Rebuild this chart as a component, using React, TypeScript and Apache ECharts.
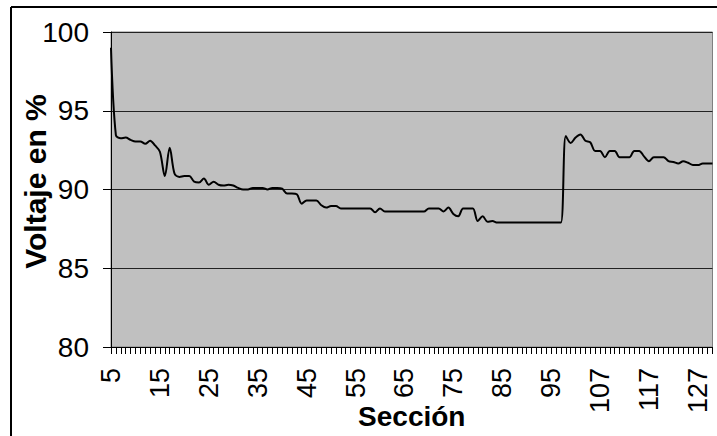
import React, { useEffect, useRef } from 'react';
import * as echarts from 'echarts';

const sections: number[] = [
  5, 6, 7, 8, 9, 10, 11, 12, 13, 14,
  15, 16, 17, 18, 19, 20, 21, 22, 23, 24,
  25, 26, 27, 28, 29, 30, 31, 32, 33, 34,
  35, 36, 37, 38, 39, 40, 41, 42, 43, 44,
  45, 46, 47, 48, 49, 50, 51, 52, 53, 54,
  55, 56, 57, 58, 59, 60, 61, 62, 63, 64,
  65, 66, 67, 68, 69, 70, 71, 72, 73, 74,
  75, 76, 77, 78, 79, 80, 81, 82, 83, 84,
  85, 86, 87, 88, 89, 90, 91, 92, 93, 94,
  95, 96, 97, 98, 100, 101, 102, 104, 105, 106,
  107, 108, 109, 110, 111, 112, 113, 114, 115, 116,
  117, 118, 119, 120, 121, 122, 123, 124, 125, 126,
  127, 128, 129, 130,
];

const voltage: number[] = [
  99.0, 93.45, 93.25, 93.3, 93.15, 93.05, 93.05, 92.9, 93.1, 92.8,
  92.4, 90.85, 92.65, 91.0, 90.8, 90.85, 90.85, 90.5, 90.45, 90.7,
  90.3, 90.5, 90.3, 90.25, 90.3, 90.25, 90.1, 90.0, 90.0, 90.1,
  90.1, 90.1, 90.0, 90.1, 90.1, 90.05, 89.75, 89.75, 89.7, 89.1,
  89.3, 89.3, 89.3, 89.0, 88.85, 88.95, 88.95, 88.8, 88.8, 88.8,
  88.8, 88.8, 88.8, 88.8, 88.55, 88.8, 88.6, 88.6, 88.6, 88.6,
  88.6, 88.6, 88.6, 88.6, 88.6, 88.8, 88.8, 88.8, 88.6, 88.85,
  88.45, 88.3, 88.8, 88.8, 88.8, 88.0, 88.3, 87.95, 88.0, 87.9,
  87.9, 87.9, 87.9, 87.9, 87.9, 87.9, 87.9, 87.9, 87.9, 87.9,
  87.9, 87.9, 87.9, 93.4, 92.95, 93.3, 93.5, 93.1, 93.0, 92.45,
  92.45, 92.05, 92.45, 92.45, 92.05, 92.05, 92.05, 92.45, 92.45, 92.1,
  91.8, 92.05, 92.05, 92.05, 91.8, 91.75, 91.65, 91.8, 91.7, 91.55,
  91.55, 91.65, 91.65, 91.65,
];

const yMin = 80;
const yMax = 100;
const yStep = 5;

const FONT = '"Liberation Sans", Arial, sans-serif';

export default function App() {
  const ref = useRef<HTMLDivElement>(null);

  useEffect(() => {
    if (!ref.current) return;
    const chart = echarts.init(ref.current, undefined, { renderer: 'svg' });
    chart.setOption({
      animation: false,
      backgroundColor: '#ffffff',
      grid: {
        left: 111,
        top: 32,
        right: 4.5,
        bottom: 89,
        show: true,
        backgroundColor: '#c0c0c0',
        borderColor: '#808080',
        borderWidth: 1,
        containLabel: false,
        outerBoundsMode: 'none',
      },
      xAxis: {
        type: 'category',
        data: sections.map(String),
        boundaryGap: false,
        axisLine: { show: true, lineStyle: { color: '#000', width: 1 } },
        axisTick: { show: true, interval: 0, length: 7, lineStyle: { color: '#000', width: 1 } },
        axisLabel: {
          interval: 9,
          rotate: 90,
          margin: 21,
          fontSize: 27,
          color: '#000',
          fontFamily: FONT,
        },
        splitLine: { show: false },
        name: 'Sección',
        nameLocation: 'middle',
        nameGap: 55,
        nameMoveOverlap: false,
        nameTextStyle: { fontSize: 28, fontWeight: 'bold', color: '#000', fontFamily: FONT },
      },
      yAxis: {
        type: 'value',
        min: yMin,
        max: yMax,
        interval: yStep,
        axisLine: { show: true, lineStyle: { color: '#000', width: 1 } },
        axisTick: { show: true, length: 8, lineStyle: { color: '#000', width: 1 } },
        axisLabel: { margin: 22, fontSize: 28, color: '#000', fontFamily: FONT },
        splitLine: { show: true, lineStyle: { color: '#222', width: 1 } },
        name: 'Voltaje en %',
        nameLocation: 'middle',
        nameGap: 61,
        nameMoveOverlap: false,
        nameTextStyle: { fontSize: 30, fontWeight: 'bold', color: '#000', fontFamily: FONT, padding: [0, 0, 0, 16] },
      },
      series: [
        {
          type: 'line',
          data: voltage,
          symbol: 'none',
          showSymbol: false,
          smooth: 0.33,
          lineStyle: { color: '#000', width: 2 },
        },
      ],
      graphic: [
        { type: 'line', shape: { x1: 11, y1: 7, x2: 717, y2: 7 }, style: { stroke: '#000', lineWidth: 2 } },
        { type: 'line', shape: { x1: 11, y1: 7, x2: 11, y2: 436 }, style: { stroke: '#000', lineWidth: 2 } },
      ],
    });
    return () => chart.dispose();
  }, []);

  return (
    <div
      ref={ref}
      style={{ position: 'fixed', left: 0, top: 0, width: 717, height: 436 }}
    />
  );
}
